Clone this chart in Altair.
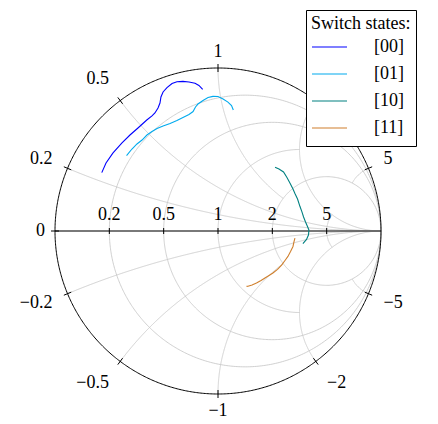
import numpy as np
import pandas as pd
import altair as alt

# ---------------- data: reflection coefficient (Re, Im) ----------------
states = ["[00]", "[01]", "[10]", "[11]"]
colors = ["#0000ff", "#00aaee", "#008080", "#d07f2c"]

s00_re = [-0.713, -0.687, -0.644, -0.589, -0.540, -0.491, -0.437, -0.405, -0.387, -0.368,
          -0.356, -0.350, -0.337, -0.313, -0.282, -0.252, -0.215, -0.178, -0.141, -0.117, -0.094]
s00_im = [0.358, 0.417, 0.479, 0.540, 0.589, 0.632, 0.681, 0.706, 0.724, 0.755,
          0.785, 0.822, 0.853, 0.880, 0.905, 0.916, 0.918, 0.914, 0.906, 0.893, 0.869]

s01_re = [-0.561, -0.528, -0.497, -0.466, -0.436, -0.405, -0.374, -0.337, -0.294, -0.252, -0.215,
          -0.178, -0.153, -0.138, -0.123, -0.092, -0.061, -0.031, 0.000, 0.031, 0.061, 0.083, 0.094]
s01_im = [0.463, 0.503, 0.534, 0.558, 0.589, 0.610, 0.629, 0.644, 0.660, 0.678, 0.696,
          0.715, 0.733, 0.761, 0.779, 0.801, 0.819, 0.826, 0.825, 0.810, 0.791, 0.770, 0.742]

s10_re = [0.350, 0.374, 0.402, 0.423, 0.442, 0.460, 0.472, 0.488, 0.503, 0.515, 0.525,
          0.537, 0.549, 0.558, 0.555, 0.543, 0.521]
s10_im = [0.391, 0.380, 0.362, 0.328, 0.293, 0.258, 0.230, 0.196, 0.150, 0.117, 0.086,
          0.055, 0.028, 0.006, -0.025, -0.052, -0.077]

s11_re = [0.472, 0.466, 0.460, 0.445, 0.429, 0.411, 0.390, 0.365, 0.337, 0.313, 0.288,
          0.264, 0.236, 0.209, 0.184, 0.175]
s11_im = [-0.043, -0.067, -0.095, -0.126, -0.156, -0.181, -0.209, -0.236, -0.258, -0.273, -0.288,
          -0.304, -0.319, -0.331, -0.339, -0.340]

# Smith chart ticks (normalised impedance)
r_ticks = [0.2, 0.5, 1, 2, 5]
x_ticks = [0.2, 0.5, 1, 2, 5]
r_grid_stop = [np.inf, np.inf, 2, np.inf, 2]   # |x| where constant-r circles end
x_grid_stop = [np.inf, np.inf, 2, np.inf, 2]   # r where constant-x arcs end

FONT = "Liberation Serif"
FS = 18
PX = 163.0  # pixels per unit of Gamma


def gamma(z):
    return (z - 1) / (z + 1)


def tparam(stop, n, sym):
    T = np.arctan(stop) if np.isfinite(stop) else np.pi / 2 * 0.99995
    if sym:
        return np.tan(np.linspace(-T, T, n))
    return np.tan(np.linspace(0, T, n))


# ---------------- grid ----------------
rows = []
gid = 0
for r, X in zip(r_ticks, r_grid_stop):
    xs = tparam(X, 500, True)
    g = gamma(r + 1j * xs)
    for i, v in enumerate(g):
        rows.append((gid, i, v.real, v.imag))
    gid += 1
for xv, R in zip(x_ticks, x_grid_stop):
    for sgn in (1, -1):
        rs = tparam(R, 500, False)
        g = gamma(rs + 1j * sgn * xv)
        for i, v in enumerate(g):
            rows.append((gid, i, v.real, v.imag))
        gid += 1
grid_df = pd.DataFrame(rows, columns=["id", "i", "re", "im"])

th = np.linspace(0, 2 * np.pi, 721)
circ_df = pd.DataFrame({"i": np.arange(th.size), "re": np.cos(th), "im": np.sin(th)})
axis_df = pd.DataFrame({"i": [0, 1], "re": [-1.0, 1.0], "im": [0.0, 0.0]})

# ticks
tick_rows = []
bvals = [0.0] + x_ticks + [-v for v in x_ticks]
for xv in bvals:
    gb = gamma(1j * xv) if xv != 0 else -1 + 0j
    d = 4 / PX
    tick_rows.append((gb.real * (1 - d), gb.imag * (1 - d), gb.real * (1 + d), gb.imag * (1 + d)))
for r in r_ticks:
    gr = gamma(r + 0j).real
    tick_rows.append((gr, -3 / PX, gr, 3 / PX))
tick_df = pd.DataFrame(tick_rows, columns=["re", "im", "re2", "im2"])


# ---------------- labels ----------------
def fmt(v):
    s = ("%g" % abs(v))
    return ("\u2212" + s) if v < 0 else s


def twidth(s):
    w = 0
    for ch in s:
        w += {"\u2212": 0.564, ".": 0.25}.get(ch, 0.5)
    return w * FS


lab_rows = []
for xv in bvals:
    gb = gamma(1j * xv) if xv != 0 else -1 + 0j
    a, b = gb.real, gb.imag
    s = fmt(xv)
    w, h = twidth(s), 13.0
    gg = 10 + 9 * abs(2 * a * b)
    sx = np.sign(a) * np.clip((abs(a) - 0.2) / 0.4, 0, 1)
    sy = np.sign(-b) * np.clip((abs(b) - 0.2) / 0.4, 0, 1)
    ox = a * gg + sx * w / 2
    oy = -b * gg + sy * h / 2
    lab_rows.append((s, a + ox / PX, b - oy / PX))
for r in r_ticks:
    gr = gamma(r + 0j).real
    lab_rows.append((fmt(r), gr, 16 / PX))
lab_df = pd.DataFrame(lab_rows, columns=["t", "re", "im"])

# data curves
data_rows = []
for st, rr, ii in zip(states, [s00_re, s01_re, s10_re, s11_re], [s00_im, s01_im, s10_im, s11_im]):
    for k, (a, b) in enumerate(zip(rr, ii)):
        data_rows.append((st, k, a, b))
data_df = pd.DataFrame(data_rows, columns=["state", "i", "re", "im"])

sc = alt.Scale(domain=[-1, 1], nice=False, zero=False)
X = alt.X("re:Q", scale=sc, axis=None)
Y = alt.Y("im:Q", scale=sc, axis=None)

grid = alt.Chart(grid_df).mark_line(color="#c4c4c4", strokeWidth=0.8).encode(
    x=X, y=Y, detail="id:N", order="i:Q")
circle = alt.Chart(circ_df).mark_line(color="black", strokeWidth=1.0).encode(x=X, y=Y, order="i:Q")
axis = alt.Chart(axis_df).mark_line(color="#4d4d4d", strokeWidth=1.4).encode(x=X, y=Y, order="i:Q")
ticks = alt.Chart(tick_df).mark_rule(color="black", strokeWidth=1.0).encode(
    x=X, y=Y, x2="re2:Q", y2="im2:Q")

curves = alt.Chart(data_df).mark_line(strokeWidth=1.1).encode(
    x=X, y=Y, order="i:Q",
    color=alt.Color(
        "state:N",
        scale=alt.Scale(domain=states, range=colors),
        legend=alt.Legend(
            title="Switch states:", orient="none", legendX=251, legendY=-58,
            direction="vertical", symbolType="stroke", symbolSize=1225,
            symbolStrokeWidth=1.2, labelFont=FONT, labelFontSize=FS, labelColor="black",
            labelOffset=26, titleFont=FONT, titleFontSize=FS, titleFontWeight="normal",
            titleColor="black", titlePadding=1, padding=5, strokeColor="black",
            fillColor="white", cornerRadius=0, clipHeight=26, rowPadding=1,
            labelLimit=300, titleLimit=400,
        ),
    ),
)

labels = alt.Chart(lab_df).mark_text(
    font=FONT, fontSize=FS, color="black", align="center", baseline="middle"
).encode(x=X, y=Y, text="t:N")

chart = alt.layer(grid, axis, circle, ticks, labels, curves).properties(
    width=326, height=326,
    padding={"left": 47, "top": 60, "right": 49, "bottom": 26},
    autosize="none",
).configure_view(stroke=None)

chart.save("out.html", embed_options={"renderer": "svg", "actions": False})
